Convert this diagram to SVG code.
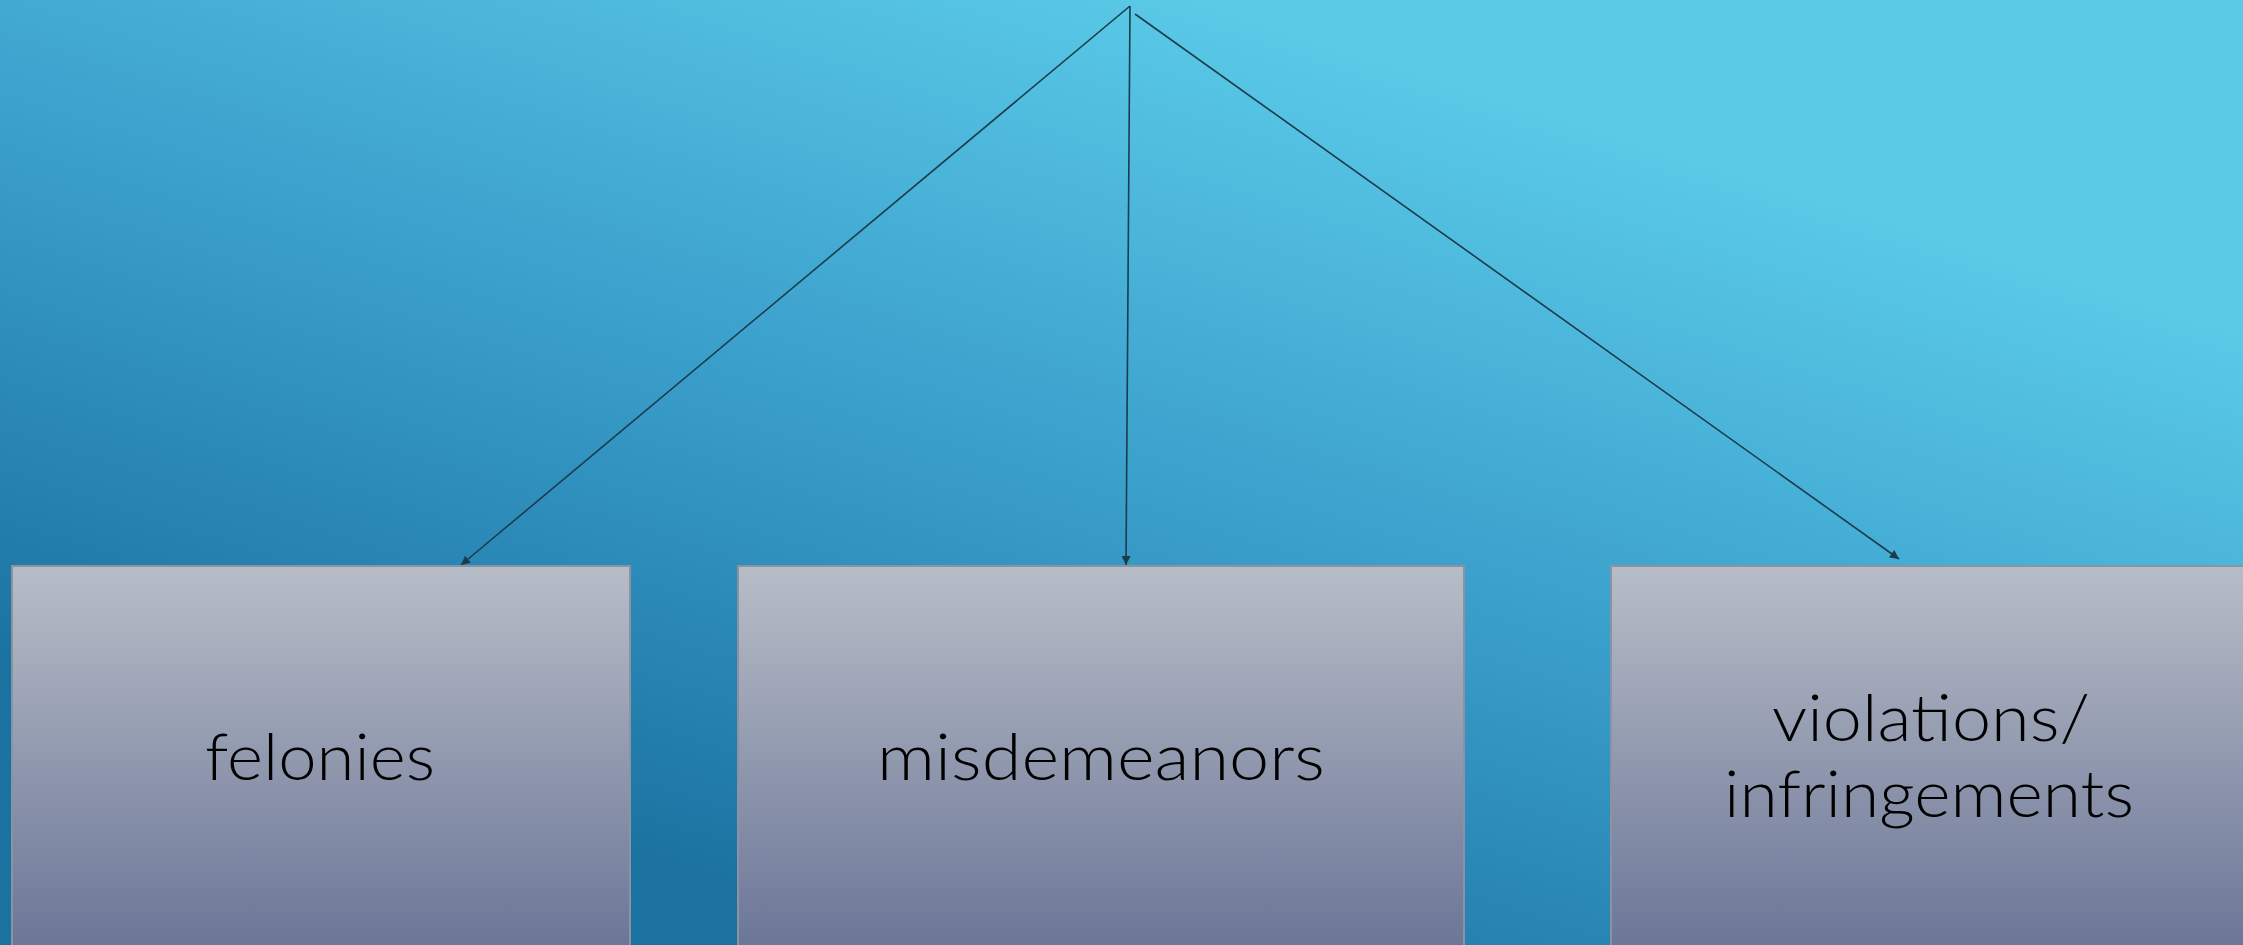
<svg xmlns="http://www.w3.org/2000/svg" width="2243" height="945" viewBox="0 0 2243 945">
<style>
.box{fill:url(#boxg);stroke:#8a93a3;stroke-width:2}
.lbl{font-family:"Lato","Liberation Sans",Arial,sans-serif;font-weight:300;font-size:66px;fill:#000;text-anchor:middle}
.conn{stroke:#1c3b4c;stroke-width:1.6;fill:none}
</style>
<defs>
<linearGradient id="bg" gradientUnits="userSpaceOnUse" x1="900" y1="945" x2="1200" y2="0">
<stop offset="0" stop-color="#1b72a1"/>
<stop offset="0.5" stop-color="#3a9ecb"/>
<stop offset="1" stop-color="#5acae7"/>
</linearGradient>
<linearGradient id="boxg" x1="0" y1="0" x2="0" y2="1">
<stop offset="0" stop-color="#b7bdc7"/>
<stop offset="1" stop-color="#6a7496"/>
</linearGradient>
<marker id="arr" viewBox="0 0 10 10" refX="10" refY="5" markerWidth="10" markerHeight="9" markerUnits="userSpaceOnUse" orient="auto">
<path d="M0,0 L10,5 L0,10 z" fill="#1c3b4c"/>
</marker>
</defs>
<rect width="2243" height="945" fill="url(#bg)"/>
<g id="connectors">
<line class="conn" x1="1130" y1="6" x2="461" y2="565" marker-end="url(#arr)"/>
<line class="conn" x1="1130" y1="6" x2="1126" y2="565" marker-end="url(#arr)"/>
<line class="conn" x1="1135" y1="14" x2="1899" y2="559" marker-end="url(#arr)"/>
</g>
<g id="felonies">
<rect class="box" x="12" y="566" width="618" height="390"/>
<text class="lbl" x="320" y="780" textLength="230" lengthAdjust="spacingAndGlyphs">felonies</text>
</g>
<g id="misdemeanors">
<rect class="box" x="738" y="566" width="726" height="390"/>
<text class="lbl" x="1101" y="780" textLength="448" lengthAdjust="spacingAndGlyphs">misdemeanors</text>
</g>
<g id="violations">
<rect class="box" x="1611" y="566" width="650" height="390"/>
<text class="lbl" x="1931" y="741" textLength="318" lengthAdjust="spacingAndGlyphs">violations/</text>
<text class="lbl" x="1929" y="817" textLength="410" lengthAdjust="spacingAndGlyphs">infringements</text>
</g>
</svg>
